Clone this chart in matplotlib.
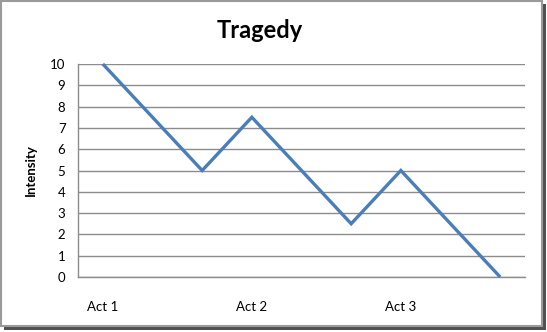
import matplotlib
matplotlib.use("Agg")
import matplotlib.pyplot as plt
from matplotlib.patches import Rectangle

categories = ["Act 1", "", "", "Act 2", "", "", "Act 3", "", ""]
intensity = [10, 7.5, 5, 7.5, 5, 2.5, 5, 2.5, 0]
yticks = list(range(0, 11))

W, H = 547, 332
fig = plt.figure(figsize=(W / 100, H / 100), dpi=100)
fig.patch.set_facecolor("white")

# border + shadow
def px(x0, y0, x1, y1, **kw):
    r = Rectangle((x0 / W, 1 - y1 / H), (x1 - x0) / W, (y1 - y0) / H,
                  transform=fig.transFigure, **kw)
    fig.patches.append(r)

px(4, 4, 546, 330, facecolor="#505050", edgecolor="none", zorder=0)
px(1, 1, 542, 326, facecolor="white", edgecolor="#9a9a9a", linewidth=1.5, zorder=1)

ax = fig.add_axes([78 / W, 1 - 277 / H, (525 - 78) / W, (277 - 64) / H])
ax.set_facecolor("none")
ax.set_zorder(2)
x = list(range(len(categories)))
ax.plot(x, intensity, color="#4A7EBB", linewidth=2.4, solid_capstyle="butt",
        solid_joinstyle="miter", zorder=3, clip_on=False)
ax.set_xlim(-0.5, len(categories) - 0.5)
ax.set_ylim(0, 10)
ax.set_yticks(yticks)
ax.set_yticklabels([str(t) for t in yticks], fontsize=9.5, family="Lato")
ax.set_xticks(x)
ax.set_xticklabels(categories, fontsize=9.5, family="Lato")
ax.tick_params(axis="both", length=0)
ax.tick_params(axis="x", pad=17)
ax.tick_params(axis="y", pad=9)
ax.grid(axis="y", color="#8c8c8c", linewidth=1.0)
ax.set_axisbelow(True)
for s in ["top", "right"]:
    ax.spines[s].set_visible(False)
for s in ["left", "bottom"]:
    ax.spines[s].set_color("#8c8c8c")
    ax.spines[s].set_linewidth(1.0)

fig.text(260 / W, 1 - 31 / H, "Tragedy", ha="center", va="center",
         fontsize=17, fontweight="bold", family="Lato")
fig.text(31 / W, 1 - 170 / H, "Intensity", ha="center", va="center",
         rotation=90, fontsize=9.5, fontweight="bold", family="Lato")

fig.savefig("out.png", dpi=100, facecolor="white")
